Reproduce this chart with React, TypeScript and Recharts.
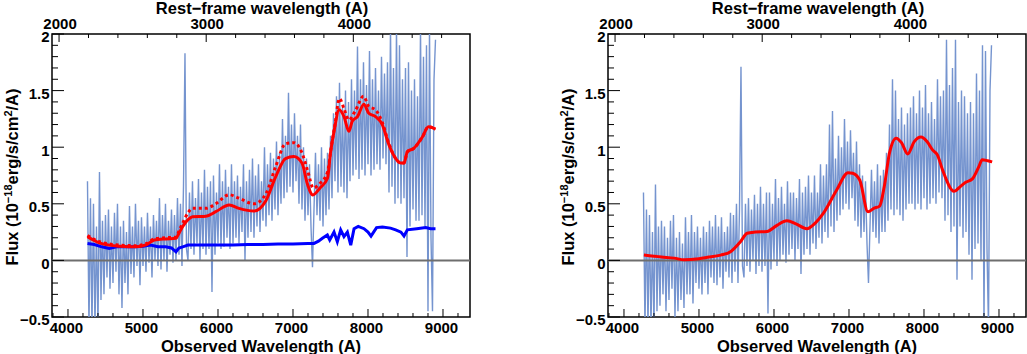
import React from 'react';
import { ComposedChart, Line, XAxis, YAxis, ReferenceLine, ReferenceArea } from 'recharts';

// spectrum sampling (observed wavelength, A)
const LAMBDA_START = 4260;
const LAMBDA_STEP = 20;

// left panel: observed spectrum (one row = 200 A)
const fluxLeft = [
  0.7, -0.6, 0.55, -0.6, 0.5, -0.6, 0.3, -0.6, 0.78, -0.35,
  0.35, -0.3, 0.4, -0.15, 0.45, -0.25, 0.3, -0.2, 0.42, -0.1,
  0.5, -0.3, 0.3, -0.42, 0.35, -0.2, 0.25, -0.3, 0.48, -0.12,
  0.3, -0.15, 0.5, -0.05, 0.35, -0.22, 0.38, -0.05, 0.3, -0.1,
  0.42, -0.02, 0.3, -0.15, 0.4, 0.0, 0.35, -0.05, 0.55, -0.08,
  0.4, 0.0, 0.5, -0.1, 0.35, 0.05, 0.45, -0.02, 0.4, 0.0,
  0.55, 0.05, 0.5, -0.05, 0.65, 1.83, 0.1, 0.0, 0.6, 0.1,
  0.7, 0.05, 0.55, 0.15, 0.72, 0.0, 0.6, 0.1, 0.8, 0.05,
  0.65, 0.1, 0.7, -0.28, 0.75, 0.05, 0.6, 0.15, 0.85, 0.1,
  0.7, 0.12, 0.8, 0.2, 0.65, 0.1, 0.85, 0.15, 0.7, 0.2,
  0.75, 0.15, 0.65, 0.25, 0.85, 0.0, 0.7, 0.2, 0.8, 0.25,
  0.9, 0.2, 0.75, 0.3, 0.85, 0.25, 0.7, 0.35, 1.0, 0.3,
  0.85, 0.4, 0.95, 0.35, 0.9, 0.45, 1.05, 0.4, 0.95, 0.5,
  1.25, 0.55, 1.1, 0.6, 1.48, 0.65, 1.2, 0.6, 1.3, 0.7,
  1.1, 0.5, 1.2, 0.45, 1.0, 0.35, 0.9, 0.4, 0.85, 0.3,
  -0.06, 0.45, 0.95, 0.4, 0.85, 0.35, 1.0, 0.3, 0.9, 0.4,
  0.95, 0.45, 1.1, 0.55, 1.3, 0.7, 1.45, 0.6, 1.57, 0.65,
  1.35, 0.6, 1.5, 0.55, 1.4, 0.7, 1.6, 0.75, 1.5, 0.8,
  1.89, 0.72, 1.6, 0.8, 1.75, 0.75, 1.55, 0.85, 1.85, 0.75,
  1.6, 0.8, 1.7, 0.85, 1.5, 0.8, 1.8, 0.9, 1.65, 0.85,
  1.75, 0.6, 2.05, 0.65, 1.7, 0.5, 2.05, 0.55, 1.9, 0.5,
  1.6, 0.55, 1.7, 0.03, 1.75, 0.3, 1.5, 0.45, 1.6, 0.35,
  1.45, 0.35, 2.05, 0.4, 1.8, 0.3, 1.9, -0.45, 2.05, 0.2,
  -0.45, 1.6, 1.95,
];

// right panel: host-subtracted spectrum
const fluxRight = [
  0.6, -0.6, 0.45, -0.6, 0.4, -0.6, 0.25, -0.6, 0.67, -0.45,
  0.3, -0.4, 0.35, -0.3, 0.3, -0.45, 0.2, -0.35, 0.35, -0.25,
  0.4, -0.5, 0.2, -0.45, 0.25, -0.35, 0.15, -0.42, 0.38, -0.3,
  0.25, -0.3, 0.4, -0.38, 0.25, -0.2, 0.3, -0.25, 0.2, -0.3,
  0.3, -0.2, 0.25, -0.3, 0.35, -0.15, 0.3, -0.2, 0.4, -0.22,
  0.3, -0.15, 0.38, -0.25, 0.25, -0.1, 0.3, -0.15, 0.42, -0.2,
  0.4, -0.1, 0.5, -0.2, 0.45, 1.71, -0.05, -0.15, 0.5, -0.05,
  0.55, -0.1, 0.45, 0.0, 0.58, -0.12, 0.5, -0.05, 0.65, -0.1,
  0.5, -0.05, 0.6, -0.47, 0.6, -0.08, 0.5, 0.0, 0.72, -0.05,
  0.55, 0.0, 0.65, 0.05, 0.5, -0.02, 0.7, 0.05, 0.6, 0.1,
  0.6, 0.0, 0.55, 0.1, 0.72, -0.12, 0.6, 0.05, 0.65, 0.1,
  0.75, 0.05, 0.6, 0.15, 0.75, 0.1, 0.6, 0.2, 0.85, 0.15,
  0.75, 0.25, 0.85, 0.2, 1.2, 0.3, 1.32, 0.25, 0.9, 0.35,
  1.1, 0.4, 1.0, 0.45, 1.25, 0.5, 1.05, 0.45, 1.15, 0.55,
  0.95, 0.35, 1.05, 0.3, 0.85, 0.2, 0.75, 0.25, 0.7, 0.15,
  -0.2, 0.3, 0.8, 0.25, 0.7, 0.2, 0.85, 0.15, 0.75, 0.25,
  0.8, 0.25, 0.95, 0.35, 1.2, 0.45, 1.6, 0.4, 1.5, 0.45,
  1.25, 0.4, 1.35, 0.35, 1.2, 0.45, 1.3, 0.5, 1.35, 0.5,
  1.45, 0.45, 1.3, 0.5, 1.5, 0.45, 1.35, 0.55, 1.55, 0.45,
  1.3, 0.5, 1.4, 0.55, 1.25, 0.5, 1.6, 0.6, 1.45, 0.55,
  1.5, 0.35, 1.95, 0.4, 1.55, 0.25, 1.7, 0.3, 1.95, -0.17,
  1.4, 0.3, 1.5, 0.2, 1.45, 0.25, 1.3, 0.05, 1.4, -0.17,
  1.3, 0.1, 1.65, 0.15, 1.5, 0.0, 1.9, -0.6, 1.85, 0.1,
  -0.6, 1.5, 1.9,
];

// total model (solid red, left)
const modelLambda = [
  4260, 4400, 4550, 4700, 4900, 5050, 5150, 5300, 5440, 5480, 5530, 5600, 5660, 5840,
  5970, 6150, 6280, 6480, 6640, 6770, 6900, 7010, 7120, 7190, 7265, 7360, 7460, 7500,
  7550, 7615, 7680, 7745, 7790, 7860, 7945, 8010, 8100, 8190, 8280, 8370, 8440, 8480,
  8525, 8610, 8725, 8805, 8900,
];
const modelFlux = [
  0.21, 0.16, 0.135, 0.125, 0.12, 0.14, 0.18, 0.19, 0.195, 0.24, 0.3, 0.36, 0.386, 0.39,
  0.43, 0.49, 0.46, 0.436, 0.53, 0.74, 0.9, 0.917, 0.86, 0.68, 0.578, 0.64, 0.725, 0.95,
  1.15, 1.33, 1.27, 1.14, 1.23, 1.27, 1.38, 1.3, 1.27, 1.2, 1.02, 0.9, 0.86, 0.86,
  0.96, 0.99, 1.09, 1.18, 1.16,
];

// alternative model (dotted red, left)
const altLambda = [
  4260, 4400, 4550, 4700, 4900, 5050, 5150, 5300, 5440, 5480, 5530, 5600, 5660, 5840,
  5970, 6150, 6280, 6480, 6640, 6770, 6900, 7010, 7120, 7200, 7270, 7360, 7460, 7510,
  7560, 7620, 7680, 7745, 7830, 7940, 8010, 8100, 8190, 8280, 8370, 8440, 8480, 8525,
  8610, 8725, 8805, 8900,
];
const altFlux = [
  0.22, 0.17, 0.145, 0.135, 0.13, 0.15, 0.19, 0.2, 0.205, 0.26, 0.33, 0.42, 0.46, 0.46,
  0.5, 0.58, 0.55, 0.5, 0.59, 0.83, 1.03, 1.04, 0.95, 0.78, 0.64, 0.68, 0.78, 1.0,
  1.2, 1.43, 1.34, 1.24, 1.32, 1.45, 1.36, 1.33, 1.22, 1.03, 0.9, 0.86, 0.86, 0.96,
  0.99, 1.09, 1.18, 1.16,
];

// host galaxy (blue, left)
const hostLambda = [
  4260, 4350, 4450, 4550, 4650, 4750, 4900, 5000, 5100, 5200, 5300, 5380, 5440, 5480,
  5530, 5600, 5800, 6000, 6200, 6400, 6600, 6800, 7000, 7200, 7280, 7340, 7392, 7458,
  7490, 7547, 7591, 7636, 7680, 7725, 7770, 7814, 7870, 7947, 8000, 8040, 8114, 8192,
  8300, 8369, 8440, 8480, 8525, 8650, 8770, 8836, 8900,
];
const hostFlux = [
  0.15, 0.14, 0.12, 0.106, 0.12, 0.12, 0.12, 0.125, 0.135, 0.12, 0.12, 0.11, 0.076, 0.11,
  0.12, 0.135, 0.135, 0.135, 0.135, 0.14, 0.14, 0.145, 0.145, 0.15, 0.15, 0.17, 0.195, 0.224,
  0.18, 0.25, 0.165, 0.27, 0.21, 0.25, 0.135, 0.28, 0.3, 0.28, 0.25, 0.215, 0.29, 0.295,
  0.285, 0.27, 0.25, 0.215, 0.27, 0.28, 0.29, 0.28, 0.28,
];

// SN model (solid red, right)
const snLambda = [
  4265, 4500, 4670, 4800, 5000, 5113, 5289, 5421, 5553, 5642, 5750, 5907, 6040, 6172,
  6300, 6437, 6550, 6657, 6834, 6988, 7050, 7143, 7253, 7330, 7408, 7470, 7540, 7629,
  7700, 7783, 7870, 7960, 8040, 8114, 8180, 8247, 8402, 8480, 8556, 8645, 8733, 8776,
  8850, 8909,
];
const snFlux = [
  0.047, 0.03, 0.02, 0.005, 0.015, 0.027, 0.047, 0.077, 0.165, 0.24, 0.25, 0.255, 0.31, 0.35,
  0.32, 0.28, 0.33, 0.415, 0.62, 0.775, 0.77, 0.71, 0.43, 0.46, 0.48, 0.65, 0.95, 1.08,
  1.04, 0.94, 1.05, 1.09, 1.05, 0.976, 0.93, 0.8, 0.61, 0.65, 0.69, 0.72, 0.83, 0.89,
  0.88, 0.87,
];

// axes
const OBS_DOMAIN = [3787, 9360];
const REST_DOMAIN = [1952, 4793];
const FLUX_DOMAIN = [-0.5, 2];
const obsMajor = [4000, 5000, 6000, 7000, 8000, 9000];
const restMajor = [2000, 3000, 4000];
const fluxMajor = [-0.5, 0, 0.5, 1, 1.5, 2];

const obsTicks = Array.from({ length: 28 }, (_, i) => 3800 + i * 200);
const restTicks = Array.from({ length: 14 }, (_, i) => 2000 + i * 200);
const fluxTicks = Array.from({ length: 26 }, (_, i) => (i - 5) / 10);

// the rest-frame axis sits on the observed scale
const obsPerRest = (OBS_DOMAIN[1] - OBS_DOMAIN[0]) / (REST_DOMAIN[1] - REST_DOMAIN[0]);
const restToObs = (r: number) => OBS_DOMAIN[0] + (r - REST_DOMAIN[0]) * obsPerRest;
const obsToRest = (w: number) => Math.round(REST_DOMAIN[0] + (w - OBS_DOMAIN[0]) / obsPerRest);
const restTicksObs = restTicks.map(restToObs);

const toPoints = (xs: number[], ys: number[]) => xs.map((w, i) => ({ w, f: ys[i] }));
const toSpectrum = (ys: number[]) => ys.map((f, i) => ({ w: LAMBDA_START + i * LAMBDA_STEP, f }));

const FONT = 'Liberation Sans, Arial, Helvetica, sans-serif';
const labelStyle = { fontFamily: FONT, fontWeight: 700, fontSize: 15, fill: '#000' };
const titleStyle = { fontFamily: FONT, fontWeight: 700, fontSize: 16.5, fill: '#000' };

const fmtFlux = (v: number) => (v < 0 ? '\u2212' + Math.abs(v) : String(v));

const BottomTick = (props: any) => {
  const { x, y, payload } = props;
  const v = payload.value;
  const major = obsMajor.includes(v);
  return (
    <g>
      <line x1={x} x2={x} y1={y} y2={y - (major ? 8 : 4)} stroke="#000" strokeWidth={1} />
      {major && (
        <text x={x - 1.5} y={y + 16} textAnchor="middle" style={labelStyle}>
          {v}
        </text>
      )}
    </g>
  );
};

const TopTick = (props: any) => {
  const { x, y, payload } = props;
  const r = obsToRest(payload.value);
  const major = restMajor.includes(r);
  return (
    <g>
      <line x1={x} x2={x} y1={y} y2={y + (major ? 8 : 4)} stroke="#000" strokeWidth={1} />
      {major && (
        <text x={x + 1} y={y - 5} textAnchor="middle" style={labelStyle}>
          {r}
        </text>
      )}
    </g>
  );
};

const LeftTick = (props: any) => {
  const { x, y, payload } = props;
  const v = payload.value;
  const major = fluxMajor.includes(v);
  return (
    <g>
      <line x1={x} x2={x + (major ? 12 : 6)} y1={y} y2={y} stroke="#000" strokeWidth={1} />
      {major && (
        <text x={x - 2.5} y={y + 8.4} textAnchor="end" style={labelStyle}>
          {fmtFlux(v)}
        </text>
      )}
    </g>
  );
};

const PLOT_W = 418;
const PLOT_TOP = 34;
const PLOT_BOTTOM = 37;
const H = 354;

type Series = { data: { w: number; f: number }[]; color: string; width: number; dash?: string; curve: 'linear' | 'monotone' };

const Panel = ({ left, width, plotLeft, spectrum, series }: { left: number; width: number; plotLeft: number; spectrum: number[]; series: Series[] }) => {
  const cx = plotLeft + 210;
  return (
    <div style={{ position: 'absolute', left, top: 0, width, height: H }}>
      <ComposedChart width={width} height={H} margin={{ top: 0, right: width - plotLeft - PLOT_W, bottom: 0, left: 0 }}>
        <XAxis
          xAxisId="obs"
          dataKey="w"
          type="number"
          orientation="bottom"
          domain={OBS_DOMAIN}
          allowDataOverflow
          ticks={obsTicks}
          interval={0}
          height={PLOT_BOTTOM}
          axisLine={false}
          tickLine={false}
          tickSize={0}
          tickMargin={0}
          tick={<BottomTick />}
        />
        <XAxis
          xAxisId="top"
          dataKey="w"
          type="number"
          orientation="top"
          domain={OBS_DOMAIN}
          allowDataOverflow
          ticks={restTicksObs}
          interval={0}
          height={PLOT_TOP}
          axisLine={false}
          tickLine={false}
          tickSize={0}
          tickMargin={0}
          tick={<TopTick />}
        />
        <YAxis
          yAxisId="flux"
          type="number"
          domain={FLUX_DOMAIN}
          allowDataOverflow
          ticks={fluxTicks}
          interval={0}
          width={plotLeft}
          axisLine={false}
          tickLine={false}
          tickSize={0}
          tickMargin={0}
          tick={<LeftTick />}
        />
        <Line
          xAxisId="top"
          yAxisId="flux"
          data={toSpectrum(spectrum)}
          dataKey="f"
          type="linear"
          stroke="#7594cf"
          strokeWidth={1.4}
          strokeLinejoin="bevel"
          dot={false}
          isAnimationActive={false}
        />
        <ReferenceLine xAxisId="obs" yAxisId="flux" y={0} stroke="#6e6e6e" strokeWidth={2} />
        {series.map((s, i) => (
          <Line
            key={i}
            xAxisId="obs"
            yAxisId="flux"
            data={s.data}
            dataKey="f"
            type={s.curve}
            stroke={s.color}
            strokeWidth={s.width}
            strokeDasharray={s.dash}
            dot={false}
            isAnimationActive={false}
          />
        ))}
        <ReferenceArea
          xAxisId="obs"
          yAxisId="flux"
          x1={OBS_DOMAIN[0]}
          x2={OBS_DOMAIN[1]}
          y1={FLUX_DOMAIN[0]}
          y2={FLUX_DOMAIN[1]}
          fill="none"
          fillOpacity={0}
          stroke="#000"
          strokeWidth={1.5}
          strokeOpacity={1}
        />
      </ComposedChart>
      <svg width={width} height={H} style={{ position: 'absolute', left: 0, top: 0, pointerEvents: 'none' }}>
        <text x={cx} y={14} textAnchor="middle" style={titleStyle}>
          Rest{'\u2212'}frame wavelength (A)
        </text>
        <text x={cx - 1} y={352} textAnchor="middle" style={titleStyle}>
          Observed Wavelength (A)
        </text>
        <text transform="rotate(-90)" x={-177} y={plotLeft - 34.5} textAnchor="middle" style={titleStyle}>
          Flux (10
          <tspan dy={-6} fontSize={11}>{'\u2212'}18</tspan>
          <tspan dy={6}>erg/s/cm</tspan>
          <tspan dy={-6} fontSize={11}>2</tspan>
          <tspan dy={6}>/A)</tspan>
        </text>
      </svg>
    </div>
  );
};

export default function App() {
  const leftSeries: Series[] = [
    { data: toPoints(hostLambda, hostFlux), color: '#0000ff', width: 3, curve: 'linear' },
    { data: toPoints(altLambda, altFlux), color: '#ff0000', width: 3, dash: '3 3', curve: 'monotone' },
    { data: toPoints(modelLambda, modelFlux), color: '#ff0000', width: 3, curve: 'monotone' },
  ];
  const rightSeries: Series[] = [
    { data: toPoints(snLambda, snFlux), color: '#ff0000', width: 3, curve: 'monotone' },
  ];
  return (
    <div style={{ position: 'absolute', left: 0, top: 0, width: 1027, height: H, background: '#fff' }}>
      <Panel left={0} width={513} plotLeft={52} spectrum={fluxLeft} series={leftSeries} />
      <Panel left={513} width={514} plotLeft={95} spectrum={fluxRight} series={rightSeries} />
    </div>
  );
}
